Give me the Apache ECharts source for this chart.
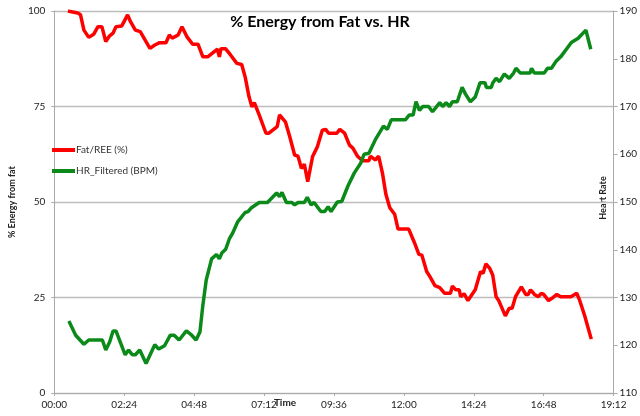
<!DOCTYPE html>
<html>
<head>
<meta charset="utf-8">
<script src="https://cdn.jsdelivr.net/npm/echarts@6/dist/echarts.min.js"></script>
<style>html,body{margin:0;padding:0;background:#fff}#c{width:640px;height:416px}</style>
</head>
<body>
<div id="c"></div>
<script>
// Time in seconds since start
const xTickLabels = ['00:00','02:24','04:48','07:12','09:36','12:00','14:24','16:48','19:12'];
const fatTimes = [28,48,54,61,71,81,90,98,106,114,121,127,139,151,157,167,177,197,207,217,230,237,243,255,263,273,285,296,306,316,336,340,343,353,363,376,386,393,401,407,412,422,436,442,459,464,476,485,495,502,509,515,522,532,542,552,559,565,582,588,598,608,615,625,635,648,651,661,668,676,683,691,701,708,730,741,751,757,767,774,784,794,804,816,820,827,834,837,844,848,852,860,867,878,883,889,897,903,910,915,929,937,943,950,962,971,976,981,989,997,1003,1008,1018,1025,1035,1043,1064,1076,1082,1092,1106];
const fatValues = [100,99.5,99,95,93.1,93.9,95.9,95.9,92,93.5,94.2,95.9,96.1,99,97.2,95,94.6,90.2,91.1,91.7,91.7,93.7,92.9,93.7,95.9,93.3,91.3,91.3,88,88,90,88,90.1,90.1,88.5,86.3,86,82.8,77.6,74.9,76,72.8,68,68,69.7,72.8,71,67.1,62.3,62,58.8,59.9,55.3,61.9,64.5,68.8,69,68,68,69,68,64.9,64.1,61.9,60.8,60.8,62,61,62,57.5,52,48.5,46.8,42.9,42.9,39.6,36.3,36.1,31.8,30.4,28.1,27.6,26.1,26.1,28,27,27,25.2,26,25.8,24.2,25.7,27,31.8,31.3,33.8,32.6,30.9,25.2,24.3,20.2,22.2,22.2,25.2,27.8,25.8,25.8,27,25.8,25.2,26.1,25.8,24.2,24.8,25.8,25.2,25.2,26.1,24.3,20.4,14.1];
const hrTimes = [30,44,61,71,99,106,114,121,127,146,153,161,167,176,189,207,215,227,239,247,257,272,283,292,300,306,313,324,334,340,345,353,361,367,378,393,399,406,422,439,458,464,469,478,489,495,502,515,521,529,535,549,557,564,570,583,592,605,618,631,638,648,661,678,686,694,723,731,739,745,752,759,771,779,794,800,807,814,820,830,840,847,857,867,877,887,890,900,903,910,917,927,937,946,951,960,980,983,989,1009,1016,1024,1033,1043,1065,1079,1095,1105];
const hrValues = [125.1,122.1,120.2,121.1,121.1,119,120.7,123,123,118,119,118,118,119,116.2,120.1,119.2,119.9,122.1,122.1,121.1,123,122.1,121.1,122.8,128.4,133.7,138.1,139,138.1,139.3,140.1,142.4,143.4,145.9,147.8,148,148.8,149.9,149.9,151.9,151.1,152,149.9,149.9,149.4,149.9,149.9,151,149.4,149.9,148,148,149,148,150,150.1,153.4,156.1,158.1,160,160.2,163,165.9,165.2,167.2,167.2,168.2,168.2,171,169.2,170,170,168.9,170.8,170,170.8,170,171,171,174,172.6,171,172,175,175,174,174,174.9,175.9,175.2,176.8,175.9,177,178,177,177,178,177,177,178,178,179.4,180.4,183.4,184.3,186,182];
const seriesNames = ['Fat/REE (%)', 'HR_Filtered (BPM)'];

const FONT = 'Lato, "Open Sans", sans-serif';
const chart = echarts.init(document.getElementById('c'), null, {renderer: 'canvas'});
chart.setOption({
  animation: false,
  backgroundColor: '#fff',
  textStyle: {fontFamily: FONT},
  title: {
    text: '% Energy from Fat vs. HR', left: 'center', top: 9,
    textStyle: {fontFamily: FONT, fontSize: 16, fontWeight: 'bold', color: '#000'}
  },
  legend: {
    data: seriesNames, orient: 'vertical', left: 52, top: 145,
    itemWidth: 23, itemHeight: 4, itemGap: 11, icon: 'rect', padding: 0,
    textStyle: {fontFamily: FONT, fontSize: 10, color: '#333', padding: [0,0,0,-4]}
  },
  grid: {left: 36, right: 25, top: 11, bottom: 23, containLabel: false},
  xAxis: {
    type: 'value', min: 0, max: 1152, interval: 144,
    axisLine: {show: true, lineStyle: {color: '#aaa', width: 1}},
    axisTick: {show: true, length: 3, lineStyle: {color: '#aaa'}},
    splitLine: {show: false},
    axisLabel: {margin: 7, fontSize: 10, color: '#222', fontFamily: FONT,
      formatter: v => xTickLabels[Math.round(v / 144)]}
  },
  yAxis: [{
    type: 'value', min: 0, max: 100, interval: 25,
    name: '% Energy from fat', nameLocation: 'middle', nameGap: 28,
    nameTextStyle: {fontFamily: FONT, fontSize: 9, fontWeight: 'bold', color: '#222'},
    axisLine: {show: true, lineStyle: {color: '#aaa', width: 1}},
    axisTick: {show: true, length: 3, lineStyle: {color: '#aaa'}},
    splitLine: {show: true, lineStyle: {color: '#bdbdbd', width: 1.3}},
    axisLabel: {margin: 9, fontSize: 10, color: '#222', fontFamily: FONT}
  }, {
    type: 'value', min: 110, max: 190, interval: 10, position: 'right',
    axisLine: {show: true, lineStyle: {color: '#aaa', width: 1}},
    axisTick: {show: true, length: 4, lineStyle: {color: '#aaa'}},
    splitLine: {show: false},
    axisLabel: {margin: 6, fontSize: 10, color: '#222', fontFamily: FONT}
  }],
  graphic: [
    {type: 'text', x: 285, y: 403, style: {text: 'Time', font: 'bold 10px ' + FONT, fill: '#222', align: 'center', verticalAlign: 'middle'}},
    {type: 'text', x: 603, y: 198, rotation: Math.PI / 2, style: {text: 'Heart Rate', font: 'bold 9px ' + FONT, fill: '#222', align: 'center', verticalAlign: 'middle'}}
  ],
  series: [{
    name: seriesNames[0], type: 'line', yAxisIndex: 0, showSymbol: false, smooth: false,
    lineStyle: {color: '#ff0000', width: 3.5}, itemStyle: {color: '#ff0000'},
    data: fatTimes.map((t, i) => [t, fatValues[i]])
  }, {
    name: seriesNames[1], type: 'line', yAxisIndex: 1, showSymbol: false, smooth: false,
    lineStyle: {color: '#0b8a1a', width: 3.5}, itemStyle: {color: '#0b8a1a'},
    data: hrTimes.map((t, i) => [t, hrValues[i]])
  }]
});
</script>
</body>
</html>
